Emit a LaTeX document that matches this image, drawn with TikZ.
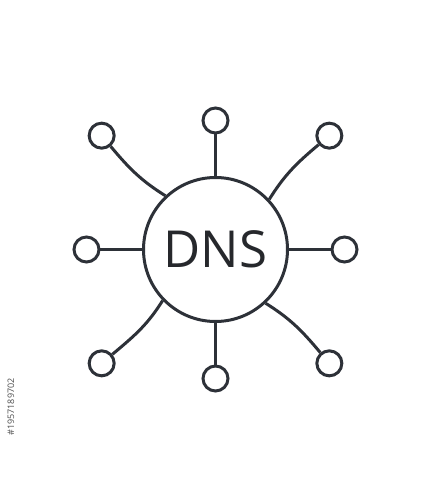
\documentclass[tikz,border=0pt]{standalone}
\usepackage{fontspec}
\setmainfont{Open Sans}
\definecolor{icon}{RGB}{45,49,56}
\definecolor{label}{RGB}{38,40,44}

\begin{document}
\begin{tikzpicture}[x=1pt,y=1pt]
	\useasboundingbox (-215.5,-250.5) rectangle (215.5,249.5);

	\begin{scope}[every node/.style={circle,draw=icon,line width=3pt,inner sep=0pt,minimum size=25pt}]
		\node [minimum size=144pt,text=label,font=\fontsize{51}{60}\selectfont] (dns) at (0,0) {DNS};
		\node (n)  at (90:129)  {};
		\node (s)  at (270:129) {};
		\node (w)  at (180:129) {};
		\node (e)  at (0:129)   {};
		\node (nw) at (135:161) {};
		\node (ne) at (45:161)  {};
		\node (sw) at (225:161) {};
		\node (se) at (315:161) {};
	\end{scope}

	\begin{scope}[every path/.style={draw=icon,line width=3pt}]
		\path (dns) -- (n);
		\path (dns) -- (s);
		\path (dns) -- (w);
		\path (dns) -- (e);
		\path (dns.133) to [out=148,in=-50] (nw);
		\path (dns.43)  to [out=58,in=220]  (ne);
		\path (dns.224) to [out=238,in=40]  (sw);
		\path (dns.313) to [out=328,in=130] (se);
	\end{scope}

	\node [rotate=90,text=black!70,font=\fontsize{9}{10}\selectfont] (stockid) at (-204.5,-157.5) {\#1957189702};
\end{tikzpicture}
\end{document}
